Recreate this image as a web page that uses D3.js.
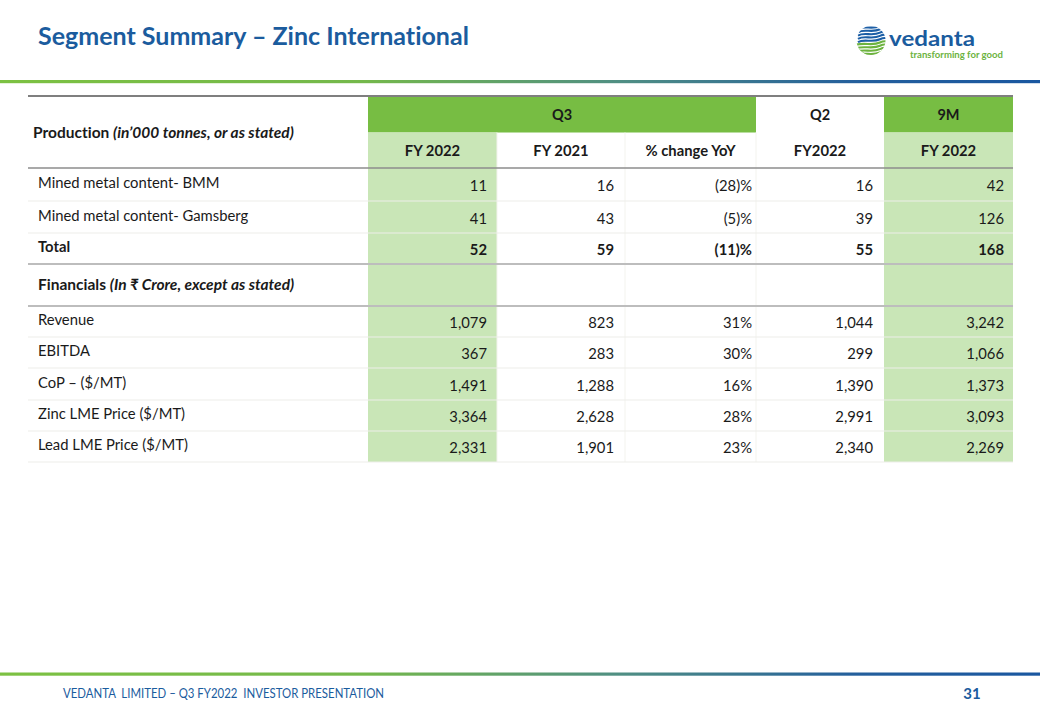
<!DOCTYPE html>
<html><head><meta charset="utf-8">
<script src="https://cdn.jsdelivr.net/npm/d3@7"></script>
<style>
html,body{margin:0;padding:0;background:#fff;}
svg{display:block;font-family:Lato,"Open Sans",sans-serif;font-variant-ligatures:none;}
</style></head>
<body><svg id="c" width="1040" height="720"></svg>
<script>
// ---------- data ----------
const title = "Segment Summary – Zinc International";
const groupHeaders = ["Q3", "Q2", "9M"];
const subHeaders = ["FY 2022", "FY 2021", "% change YoY", "FY2022", "FY 2022"];
const rowLabels = ["Mined metal content- BMM", "Mined metal content- Gamsberg", "Total",
  "Financials", "Revenue", "EBITDA", "CoP – ($/MT)", "Zinc LME Price ($/MT)", "Lead LME Price ($/MT)"];
const q3Fy2022 = [11, 41, 52, null, 1079, 367, 1491, 3364, 2331];
const q3Fy2021 = [16, 43, 59, null, 823, 283, 1288, 2628, 1901];
const changeYoY = [-28, -5, -11, null, 31, 30, 16, 28, 23];
const q2Fy2022 = [16, 39, 55, null, 1044, 299, 1390, 2991, 2340];
const nineMFy2022 = [42, 126, 168, null, 3242, 1066, 1373, 3093, 2269];
const footerText = "VEDANTA  LIMITED – Q3 FY2022  INVESTOR PRESENTATION";
const pageNumber = "31";

// ---------- layout ----------
const svg = d3.select("#c");
const GREEN = "#77bd43", LIGHT = "#c9e6b7", BLUE = "#1b5c9e", TXT = "#1a1a1a";

const colKeys = ["label", "c1", "c2", "c3", "c4", "c5"];
const colLeft = d3.scaleOrdinal().domain(colKeys).range([28, 368, 497, 625, 756, 884]);
const colRight = d3.scaleOrdinal().domain(colKeys).range([368, 497, 625, 756, 884, 1013]);
const rowKeys = d3.range(rowLabels.length);
const rowTop = d3.scaleOrdinal().domain(rowKeys).range([168, 201, 233, 264, 306, 337, 368, 400, 431]);
const rowBottom = d3.scaleOrdinal().domain(rowKeys).range([201, 233, 264, 306, 337, 368, 400, 431, 462]);
const series = [q3Fy2022, q3Fy2021, changeYoY, q2Fy2022, nineMFy2022];
const numFmt = d3.format(",");
const pctFmt = v => v < 0 ? "(" + Math.abs(v) + ")%" : v + "%";

// defs: gradient
const defs = svg.append("defs");
const grad = defs.append("linearGradient").attr("id", "g").attr("x1", "0").attr("x2", "1");
[[0, "#7cc142"], [0.35, "#74b84b"], [0.6, "#4f8e84"], [0.82, "#245f9c"], [1, "#1a57a0"]]
  .forEach(([o, c]) => grad.append("stop").attr("offset", o).attr("stop-color", c));

// title
svg.append("text").attr("x", 38).attr("y", 45).attr("fill", BLUE)
  .attr("font-size", 25).attr("font-weight", 700).text(title);

// header/footer lines
svg.append("rect").attr("x", 0).attr("y", 80).attr("width", 1040).attr("height", 3.2).attr("fill", "url(#g)");
svg.append("rect").attr("x", 0).attr("y", 672.5).attr("width", 1040).attr("height", 3.2).attr("fill", "url(#g)");

// footer
svg.append("text").attr("x", 63).attr("y", 697.5).attr("fill", BLUE).attr("font-size", 12.5)
  .style("white-space", "pre")
  .attr("textLength", 321).attr("lengthAdjust", "spacingAndGlyphs").text(footerText);
svg.append("text").attr("x", 972).attr("y", 698.5).attr("fill", BLUE).attr("font-size", 15)
  .attr("font-weight", 700).attr("text-anchor", "middle").text(pageNumber);

// logo
const logo = svg.append("g");
defs.append("clipPath").attr("id", "globe").append("circle").attr("cx", 871).attr("cy", 40.5).attr("r", 14.5);
const gl = logo.append("g").attr("clip-path", "url(#globe)");
d3.range(9).forEach(i => {
  const y = 27 + i * 3.3;
  const col = i < 5 ? "#1d5fa6" : "#6db33f";
  const x0 = i < 5 ? 858 : 853;
  gl.append("path")
    .attr("d", `M${x0},${y + 2} C${864},${y - 2} ${872},${y + 3} ${880},${y - 1} S${890},${y + 1} ${892},${y}`)
    .attr("fill", "none").attr("stroke", col).attr("stroke-width", 2.1);
});
gl.append("path").attr("d", "M856,46 C860,50 864,54 872,56 L856,58 Z").attr("fill", "#6db33f");
logo.append("text").attr("x", 889).attr("y", 46).attr("fill", BLUE).attr("font-size", 21)
  .attr("font-weight", 700).attr("textLength", 86).attr("lengthAdjust", "spacingAndGlyphs").text("vedanta");
logo.append("text").attr("x", 910).attr("y", 57.5).attr("fill", "#6db33f").attr("font-size", 9)
  .attr("font-weight", 700).attr("textLength", 93).attr("lengthAdjust", "spacingAndGlyphs").text("transforming for good");

// ---------- table ----------
const t = svg.append("g");
// header row 1 fills
t.append("rect").attr("x", colLeft("c1")).attr("y", 96).attr("width", colRight("c3") - colLeft("c1")).attr("height", 36.5).attr("fill", GREEN);
t.append("rect").attr("x", colLeft("c5")).attr("y", 96).attr("width", colRight("c5") - colLeft("c5")).attr("height", 36.5).attr("fill", GREEN);
// light green columns
["c1", "c5"].forEach(k => {
  t.append("rect").attr("x", colLeft(k)).attr("y", 132.5).attr("width", colRight(k) - colLeft(k))
    .attr("height", rowBottom(rowKeys.length - 1) - 132.5).attr("fill", LIGHT);
});
// faint vertical separators
["c2", "c3", "c4"].forEach(k => {
  t.append("line").attr("x1", colLeft(k)).attr("x2", colLeft(k)).attr("y1", 132.5).attr("y2", 462)
    .attr("stroke", "#f3f3ee").attr("stroke-width", 1);
});
// row separators
rowKeys.forEach(i => {
  const y = rowBottom(i);
  const strong = (i === 2 || i === 3);
  t.append("line").attr("x1", 28).attr("x2", 1013).attr("y1", y).attr("y2", y)
    .attr("stroke", strong ? "#bdbdbd" : "#eeeeea").attr("stroke-width", strong ? 2 : 1.2);
});
t.append("line").attr("x1", 28).attr("x2", 1013).attr("y1", 168).attr("y2", 168).attr("stroke", "#8c8c8c").attr("stroke-width", 1.6);
t.append("line").attr("x1", 28).attr("x2", 1013).attr("y1", 96).attr("y2", 96).attr("stroke", "#7f7f7f").attr("stroke-width", 2);

// header texts
const groupSpans = [["c1", "c3"], ["c4", "c4"], ["c5", "c5"]];
groupHeaders.forEach((h, i) => {
  const [a, b] = groupSpans[i];
  t.append("text").attr("x", (colLeft(a) + colRight(b)) / 2).attr("y", 114.5).attr("dy", "0.35em")
    .attr("text-anchor", "middle").attr("font-size", 14.5).attr("font-weight", 700).attr("fill", TXT).text(h);
});
subHeaders.forEach((h, i) => {
  const k = colKeys[i + 1];
  t.append("text").attr("x", (colLeft(k) + colRight(k)) / 2).attr("y", 151).attr("dy", "0.35em")
    .attr("text-anchor", "middle").attr("font-size", 14.8).attr("font-weight", 700).attr("fill", TXT).text(h);
});
const prod = t.append("text").attr("x", 33).attr("y", 132.5).attr("dy", "0.35em")
  .attr("font-size", 15.5).attr("font-weight", 700).attr("fill", TXT);
prod.append("tspan").text("Production ");
prod.append("tspan").attr("font-style", "italic").text("(in’000 tonnes, or as stated)");

// row labels
rowLabels.forEach((lab, i) => {
  const cy = (rowTop(i) + rowBottom(i)) / 2;
  if (lab === "Financials") {
    const f = t.append("text").attr("x", 38).attr("y", cy).attr("dy", "0.35em")
      .attr("font-size", 15.5).attr("font-weight", 700).attr("fill", TXT);
    f.append("tspan").text("Financials ");
    f.append("tspan").attr("font-style", "italic").text("(In ₹ Crore, except as stated)");
  } else {
    t.append("text").attr("x", 38).attr("y", cy - 1.5).attr("dy", "0.35em")
      .attr("font-size", 14.8).attr("font-weight", lab === "Total" ? 700 : 400).attr("fill", TXT).text(lab);
  }
});

// values
const pads = [10, 11, 4, 11, 9];
series.forEach((arr, ci) => {
  const k = colKeys[ci + 1];
  t.selectAll(null).data(arr.map((v, i) => ({ v, i })).filter(d => d.v !== null)).enter()
    .append("text")
    .attr("x", colRight(k) - pads[ci])
    .attr("y", d => (rowTop(d.i) + rowBottom(d.i)) / 2 + 1.5)
    .attr("dy", "0.35em").attr("text-anchor", "end").attr("font-size", 14.8)
    .attr("font-weight", d => d.i === 2 ? 700 : 400).attr("fill", TXT)
    .text(d => ci === 2 ? pctFmt(d.v) : numFmt(d.v));
});
</script></body></html>
